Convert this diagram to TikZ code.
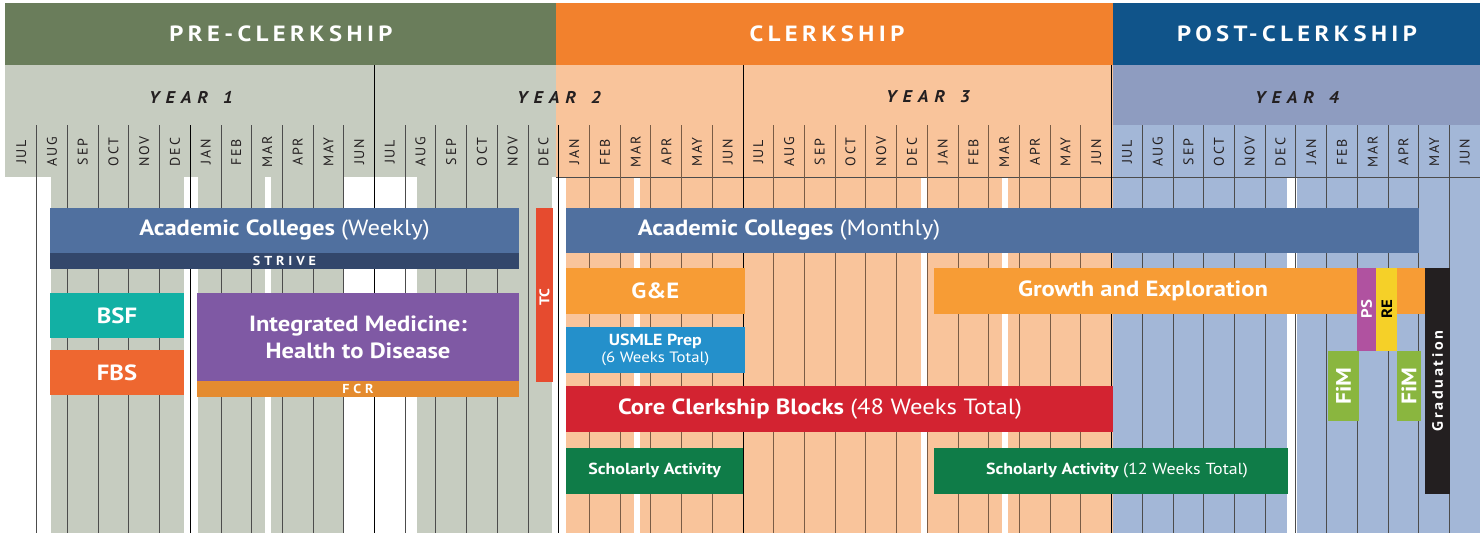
\documentclass[tikz,border=0pt]{standalone}
\usepackage{fontspec}
\setmainfont{PT Sans}[FakeStretch=1.12]
\newfontfamily\hdfont[LetterSpace=20,FakeStretch=1.12]{PT Sans}
\newfontfamily\yrfont[LetterSpace=35,FakeStretch=1.08]{PT Sans}
\newfontfamily\mofont[LetterSpace=12]{PT Sans}
\newfontfamily\smfont[LetterSpace=30,FakeStretch=1.08]{PT Sans}
\newfontfamily\grfont[LetterSpace=18,FakeStretch=1.08]{PT Sans}
\definecolor{prehd}{HTML}{6A7D5B}
\definecolor{clkhd}{HTML}{F2812D}
\definecolor{posthd}{HTML}{10548A}
\definecolor{prebg}{HTML}{C6CCC0}
\definecolor{clkbg}{HTML}{F9C49B}
\definecolor{postyr}{HTML}{8E9CC0}
\definecolor{postbg}{HTML}{A3B7D7}
\definecolor{accol}{HTML}{50709F}
\definecolor{strcol}{HTML}{33476B}
\definecolor{bsfcol}{HTML}{12B0A4}
\definecolor{fbscol}{HTML}{EE6730}
\definecolor{imcol}{HTML}{7F59A4}
\definecolor{fcrcol}{HTML}{E48B2F}
\definecolor{tccol}{HTML}{E64B2F}
\definecolor{gecol}{HTML}{F79C35}
\definecolor{uscol}{HTML}{2490CB}
\definecolor{corecol}{HTML}{D32331}
\definecolor{sacol}{HTML}{0F7C48}
\definecolor{pscol}{HTML}{B052A0}
\definecolor{recol}{HTML}{F5D028}
\definecolor{fimcol}{HTML}{8AB63F}
\definecolor{gradcol}{HTML}{231F20}
\definecolor{txtdark}{HTML}{231F20}
\definecolor{clkline}{HTML}{7A5C45}
\begin{document}
\begin{tikzpicture}[x=1pt,y=-1pt,
  bar/.style={anchor=north west,inner sep=0pt,outer sep=0pt,text=white,align=center,
    font=\bfseries\fontsize{22}{27}\selectfont},
  vtext/.style={rotate=90,inner sep=0pt,text=white,font=\bfseries\fontsize{15}{15}\selectfont},
  hdtext/.style={text=white,inner sep=0pt,font=\hdfont\bfseries\fontsize{22}{22}\selectfont},
  yrtext/.style={text=txtdark,inner sep=0pt,font=\yrfont\bfseries\itshape\fontsize{17}{17}\selectfont},
  motext/.style={rotate=90,text=txtdark,inner sep=0pt,font=\mofont\fontsize{14}{14}\selectfont},
  smtext/.style={text=white,inner sep=0pt,font=\smfont\bfseries\fontsize{13}{13}\selectfont},
  mline/.style={draw=black!70,line width=0.9pt},
  yline/.style={draw=black,line width=0.9pt}]
\useasboundingbox (0,0) rectangle (1480,533);
% header bands
\fill[prehd] (5,3) rectangle (556,65);
\fill[clkhd] (556,3) rectangle (1113,65);
\fill[posthd] (1113,3) rectangle (1480,65);
\fill[prebg] (5,65) rectangle (556,177);
\fill[clkbg] (556,65) rectangle (1113,177);
\fill[postyr] (1113,65) rectangle (1480,125);
\fill[postbg] (1113,125) rectangle (1480,177);
\node[hdtext] (hpre) at (281,34) {PRE-CLERKSHIP};
\node[hdtext] (hclk) at (827,34) {CLERKSHIP};
\node[hdtext] (hpost) at (1297,34) {POST-CLERKSHIP};
\node[yrtext] (y1) at (191,97) {YEAR\hspace{4pt} 1};
\node[yrtext] (y2) at (559,97) {YEAR\hspace{4pt} 2};
\node[yrtext] (y3) at (928,97) {YEAR\hspace{4pt} 3};
\node[yrtext] (y4) at (1297,97) {YEAR\hspace{4pt} 4};
% body columns
\foreach \a/\b in {51/184,197.5/265,271/344.3,417/552}
  \fill[prebg] (\a,177) rectangle (\b,533);
\foreach \a/\b in {566/634,640/921,927.3/1002,1008/1112.7}
  \fill[clkbg] (\a,177) rectangle (\b,533);
\foreach \a/\b in {1112.7/1287,1297/1480}
  \fill[postbg] (\a,177) rectangle (\b,533);
\draw[black!70,line width=0.7pt] (556,177) -- (1480,177);
% month grid
\foreach \i in {1,...,17}
  \draw[mline] ({6+\i*30.71},125) -- ({6+\i*30.71},533);
\foreach \i in {19,...,35}
  \draw[mline,draw=clkline] ({6+\i*30.71},125) -- ({6+\i*30.71},533);
\foreach \i in {37,...,47}
  \draw[mline] ({6+\i*30.71},125) -- ({6+\i*30.71},533);
\foreach \i in {6,18}
  \draw[yline] ({6+\i*30.71},125) -- ({6+\i*30.71},533);
\foreach \i in {12,24,36}
  \draw[yline] ({6+\i*30.71},65) -- ({6+\i*30.71},533);
\foreach \m [count=\i from 0] in {JUL,AUG,SEP,OCT,NOV,DEC,JAN,FEB,MAR,APR,MAY,JUN,
  JUL,AUG,SEP,OCT,NOV,DEC,JAN,FEB,MAR,APR,MAY,JUN,
  JUL,AUG,SEP,OCT,NOV,DEC,JAN,FEB,MAR,APR,MAY,JUN,
  JUL,AUG,SEP,OCT,NOV,DEC,JAN,FEB,MAR,APR,MAY,JUN}
  \node[motext] (m\i) at ({6+(\i+0.5)*30.71},152) {\m};
% pre-clerkship bars
\node[bar,fill=accol,minimum width=469pt,minimum height=45pt] (acw) at (50,208) {Academic Colleges \mdseries(Weekly)};
\node[bar,fill=strcol,minimum width=469pt,minimum height=16pt] (strive) at (50,253) {};
\node[smtext] (strivet) at (strive.center) {STRIVE};
\node[bar,fill=tccol,minimum width=17pt,minimum height=174pt] (tc) at (536,208) {};
\node[vtext,font=\bfseries\fontsize{14}{14}\selectfont] (tct) at (544.5,297) {TC};
\node[bar,fill=bsfcol,minimum width=134pt,minimum height=45pt] (bsf) at (50,293) {BSF};
\node[bar,fill=fbscol,minimum width=134pt,minimum height=45pt] (fbs) at (50,350) {FBS};
\node[bar,fill=imcol,minimum width=322pt,minimum height=88pt] (im) at (197,293) {Integrated Medicine:\\Health to Disease};
\node[bar,fill=fcrcol,minimum width=322pt,minimum height=16pt] (fcr) at (197,381) {};
\node[smtext] (fcrt) at (fcr.center) {FCR};
% clerkship bars
\node[bar,fill=accol,minimum width=853.3pt,minimum height=45pt] (acm) at (566,208) {};
\node[bar,anchor=center] (acmt) at (789,230.5) {Academic Colleges \mdseries(Monthly)};
\node[bar,fill=gecol,minimum width=178.7pt,minimum height=45.7pt] (ge) at (566,268) {G\&E};
\node[bar,fill=uscol,minimum width=178.7pt,minimum height=45.7pt,font=\bfseries\fontsize{16}{17}\selectfont] (us) at (566,327) {USMLE Prep\\\mdseries\fontsize{15}{16}\selectfont(6 Weeks Total)};
\node[bar,fill=corecol,minimum width=546.7pt,minimum height=45.7pt] (core) at (566,386) {};
\node[bar,anchor=center] (coret) at (820,408.8) {Core Clerkship Blocks \mdseries(48 Weeks Total)};
\node[bar,fill=sacol,minimum width=177.3pt,minimum height=45.7pt,font=\bfseries\fontsize{16}{17}\selectfont] (sa1) at (566,448) {Scholarly Activity};
\node[bar,fill=gecol,minimum width=491pt,minimum height=45.7pt] (gro) at (934,268) {};
\node[bar,anchor=center] (grot) at (1143,291) {Growth and Exploration};
\node[bar,fill=sacol,minimum width=354pt,minimum height=45.7pt] (sa2) at (934,448) {};
\node[bar,anchor=center,font=\bfseries\fontsize{16}{17}\selectfont] (sa2t) at (1117,470.8) {Scholarly Activity \mdseries(12 Weeks Total)};
% post-clerkship bars
\node[bar,fill=pscol,minimum width=18.7pt,minimum height=82.7pt] (ps) at (1357.3,268) {};
\node[vtext] (pst) at (1366.6,309) {PS};
\node[bar,fill=recol,minimum width=21.3pt,minimum height=82.7pt] (re) at (1376,268) {};
\node[vtext,text=black] (ret) at (1386.7,309) {RE};
\node[bar,fill=fimcol,minimum width=31pt,minimum height=69.7pt] (fim1) at (1328,351) {};
\node[vtext,font=\bfseries\fontsize{21}{21}\selectfont] (fim1t) at (fim1.center) {FiM};
\node[bar,fill=fimcol,minimum width=24pt,minimum height=69.7pt] (fim2) at (1397,351) {};
\node[vtext,font=\bfseries\fontsize{21}{21}\selectfont] (fim2t) at (fim2.center) {FiM};
\node[bar,fill=gradcol,minimum width=25.3pt,minimum height=225.7pt] (grad) at (1425,268) {};
\node[vtext,font=\grfont\bfseries\fontsize{15}{15}\selectfont] (gradt) at (grad.center) {Graduation};
\end{tikzpicture}
\end{document}
